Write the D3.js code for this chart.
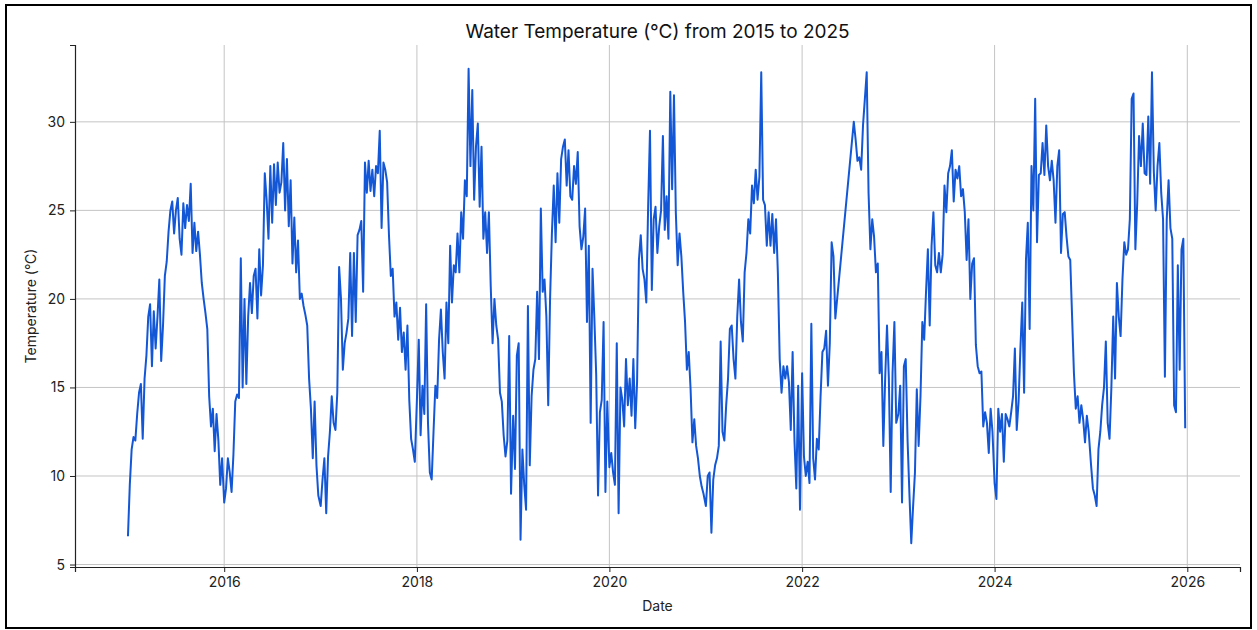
<!DOCTYPE html>
<html>
<head>
<meta charset="utf-8">
<script src="https://cdn.jsdelivr.net/npm/d3@7"></script>
<style>
  html, body { margin: 0; padding: 0; background: #fff; }
  svg { display: block; font-family: "Inter", "Noto Sans", sans-serif; }
</style>
</head>
<body>
<svg id="chart" width="1257" height="630"></svg>
<script>
// Weekly samples (day 0, 7, 14, ... of each year); null = no data (gap)
const years = [2015, 2016, 2017, 2018, 2019, 2020, 2021, 2022, 2023, 2024, 2025];
const t2015 = [6.6,9.5,11.5,12.2,12.0,13.5,14.7,15.2,12.1,15.5,16.8,19.0,19.7,16.2,19.3,17.2,19.0,21.1,16.5,18.5,21.3,22.1,23.8,25.0,25.5,23.7,25.0,25.7,23.4,22.5,25.4,24.0,25.3,24.4,26.5,22.6,24.3,22.7,23.8,22.5,20.9,20.0,19.2,18.3,14.5,12.8,13.8,11.4,13.5,12.0,9.5,11.0];
const t2016 = [8.5,9.3,11.0,10.2,9.1,11.2,14.2,14.6,14.4,22.3,15.0,20.0,15.2,19.0,20.9,19.2,21.3,21.7,18.9,22.8,20.2,21.9,27.1,25.6,23.4,27.5,24.3,27.6,25.3,27.7,26.0,26.6,28.8,25.0,27.9,24.1,26.7,22.0,24.6,21.5,23.3,20.0,20.3,19.6,19.1,18.5,15.5,13.8,11.0,14.2,10.6,8.9];
const t2017 = [8.3,9.8,11.0,7.9,11.1,12.5,14.5,13.0,12.6,14.7,21.8,20.0,16.0,17.5,18.1,18.9,22.6,17.9,22.6,18.7,23.6,23.9,24.4,20.4,27.7,26.0,27.8,26.1,27.3,25.8,27.5,27.1,29.5,24.0,27.7,27.3,26.6,23.6,21.3,21.7,19.0,19.8,17.7,19.5,17.0,18.1,16.0,18.5,14.3,12.1,11.5,10.8];
const t2018 = [14.3,17.7,12.3,15.1,13.5,19.7,13.0,10.2,9.8,12.5,15.1,14.4,17.7,19.4,17.0,15.5,19.8,17.5,23.0,19.8,21.9,21.5,23.7,21.5,24.9,23.4,26.7,25.8,33.0,27.5,31.8,25.6,28.6,29.9,25.2,28.6,23.4,24.9,22.6,24.9,20.7,17.5,20.0,18.5,17.7,14.7,14.2,12.3,11.1,12.0,17.9,9.0];
const t2019 = [13.4,10.4,16.8,17.5,6.4,11.5,9.5,8.1,19.6,10.6,14.5,16.0,16.6,20.4,16.6,25.1,20.4,21.1,19.0,14.0,20.0,23.7,26.4,23.2,27.1,24.3,27.9,28.6,29.0,26.4,28.4,25.8,25.6,27.5,26.5,28.3,24.1,22.8,23.5,25.1,18.7,23.0,13.0,21.7,18.9,15.7,8.9,13.6,14.3,18.7,9.1,14.2];
const t2020 = [10.5,11.3,10.2,9.5,17.5,7.9,15.0,14.3,12.8,16.6,14.0,15.5,13.4,16.6,12.7,15.3,22.2,23.6,21.7,21.1,19.8,25.2,29.5,20.5,24.5,25.2,22.6,24.1,25.0,29.2,23.9,25.8,23.4,31.7,26.2,31.5,24.9,21.9,23.7,22.4,20.4,18.7,16.0,17.0,14.9,11.9,13.2,11.7,11.0,10.0,9.4,9.0];
const t2021 = [8.3,10.0,10.2,6.8,9.8,10.6,11.0,11.7,17.6,12.5,12.0,14.0,15.5,18.3,18.5,16.6,15.5,19.0,21.1,18.7,17.6,21.5,22.6,24.5,23.7,26.4,25.4,27.3,25.6,26.9,32.8,25.6,25.3,23.0,24.9,23.0,24.8,22.6,24.5,21.5,16.6,14.7,16.2,15.5,16.2,15.3,12.6,17.0,12.0,9.3,15.1,8.1];
const t2022 = [15.8,11.1,10.0,10.8,9.6,18.6,11.0,9.8,12.1,11.5,14.5,17.0,17.2,18.2,15.1,17.5,23.2,22.4,18.9,null,null,null,null,null,null,null,null,null,30.0,29.0,27.8,28.0,27.3,29.8,31.3,32.8,26.0,22.8,24.5,23.5,21.5,22.0,15.8,17.0,11.7,15.5,18.5,15.5,9.1,15.8,18.7,13.0];
const t2023 = [13.5,15.1,8.5,16.2,16.6,12.0,9.0,6.2,8.3,10.2,14.9,11.7,14.5,18.7,17.7,20.4,22.8,18.5,23.0,24.9,21.9,21.5,22.6,21.5,22.5,26.4,24.9,27.1,27.5,28.4,25.5,27.3,26.8,27.5,25.8,26.2,24.9,22.2,24.5,20.0,22.0,22.3,17.4,16.2,15.8,15.9,12.8,13.6,13.0,11.3,13.8,12.5];
const t2024 = [9.6,8.7,13.8,12.5,13.5,10.8,13.5,13.2,12.8,13.6,14.5,17.2,12.6,14.2,17.2,19.8,14.7,22.2,24.3,18.3,27.5,25.0,31.3,23.2,27.0,27.1,28.8,27.0,29.8,27.5,26.7,27.8,26.7,24.3,27.5,28.4,22.6,24.8,24.9,23.5,22.4,22.2,19.0,15.8,13.8,14.5,13.0,14.0,13.2,11.9,13.4,12.5];
const t2025 = [10.6,9.3,8.9,8.3,11.5,12.5,14.0,15.0,17.6,13.0,12.1,15.0,19.0,15.5,20.9,19.0,17.9,21.1,23.2,22.5,22.8,24.5,31.3,31.6,22.8,25.4,29.2,27.5,29.9,27.1,27.0,30.3,26.5,32.8,27.2,25.0,27.5,28.8,26.0,24.5,15.6,24.5,26.7,24.0,23.4,14.0,13.6,21.9,16.0,22.8,23.4,12.7];
const seriesByYear = [t2015, t2016, t2017, t2018, t2019, t2020, t2021, t2022, t2023, t2024, t2025];
const xTickYears = [2016, 2018, 2020, 2022, 2024, 2026];
const yTickValues = [5, 10, 15, 20, 25, 30];

const titleText = "Water Temperature (°C) from 2015 to 2025";
const xLabel = "Date";
const yLabel = "Temperature (°C)";

// Build records
const data = [];
years.forEach((y, i) => {
  seriesByYear[i].forEach((v, k) => {
    if (v !== null) data.push({ date: new Date(y, 0, 1 + 7 * k), value: v });
  });
});

const svg = d3.select("#chart");
const W = 1257, H = 630;
const margin = { left: 75, right: 17, top: 45, bottom: 63 };
const plotW = W - margin.left - margin.right;
const plotH = H - margin.top - margin.bottom;

// outer frame
svg.append("rect").attr("x", 6).attr("y", 5).attr("width", 1245).attr("height", 623)
  .attr("fill", "#fff").attr("stroke", "#000").attr("stroke-width", 2);

const t0 = new Date(2015, 0, 1), t1 = new Date(2025, 11, 31);
const pad = (t1 - t0) * 0.05;
const x = d3.scaleTime()
  .domain([new Date(+t0 - pad), new Date(+t1 + pad)])
  .range([margin.left, margin.left + plotW]);
const y = d3.scaleLinear()
  .domain([4.86, 34.34])
  .range([margin.top + plotH, margin.top]);

const g = svg.append("g");

// grid
g.append("g").selectAll("line").data(xTickYears).join("line")
  .attr("x1", d => x(new Date(d, 0, 1))).attr("x2", d => x(new Date(d, 0, 1)))
  .attr("y1", margin.top).attr("y2", margin.top + plotH)
  .attr("stroke", "#c4c4c4").attr("stroke-width", 1);
g.append("g").selectAll("line").data(yTickValues).join("line")
  .attr("x1", margin.left).attr("x2", margin.left + plotW)
  .attr("y1", d => y(d)).attr("y2", d => y(d))
  .attr("stroke", "#c4c4c4").attr("stroke-width", 1);

// line
const line = d3.line().x(d => x(d.date)).y(d => y(d.value));
g.append("path").datum(data)
  .attr("d", line)
  .attr("fill", "none")
  .attr("stroke", "#1357d6")
  .attr("stroke-width", 2)
  .attr("stroke-linejoin", "round");

// axes
const xAxis = d3.axisBottom(x)
  .tickValues(xTickYears.map(d => new Date(d, 0, 1)))
  .tickFormat(d3.timeFormat("%Y"))
  .tickSizeOuter(0).tickSize(5).tickPadding(5);
const yAxis = d3.axisLeft(y)
  .tickValues(yTickValues)
  .tickFormat(d3.format("d"))
  .tickSizeOuter(0).tickSize(5).tickPadding(5);

const gx = g.append("g").attr("transform", `translate(0,${margin.top + plotH})`).call(xAxis);
const gy = g.append("g").attr("transform", `translate(${margin.left},0)`).call(yAxis);
[gx, gy].forEach(a => {
  a.select(".domain").attr("stroke", "#222").attr("stroke-width", 1.2);
  a.selectAll(".tick line").attr("stroke", "#222");
  a.selectAll(".tick text").attr("fill", "#222").style("font-size", "14px")
    .style("font-family", '"Inter", "Noto Sans", sans-serif');
});

// labels
svg.append("text").attr("x", margin.left + plotW / 2).attr("y", 38)
  .attr("text-anchor", "middle").attr("fill", "#111").style("font-size", "19px")
  .text(titleText);
svg.append("text").attr("x", margin.left + plotW / 2).attr("y", 611)
  .attr("text-anchor", "middle").attr("fill", "#222").style("font-size", "14px")
  .text(xLabel);
svg.append("text").attr("transform", `translate(36,${margin.top + plotH / 2}) rotate(-90)`)
  .attr("text-anchor", "middle").attr("fill", "#222").style("font-size", "14px")
  .text(yLabel);
</script>
</body>
</html>
